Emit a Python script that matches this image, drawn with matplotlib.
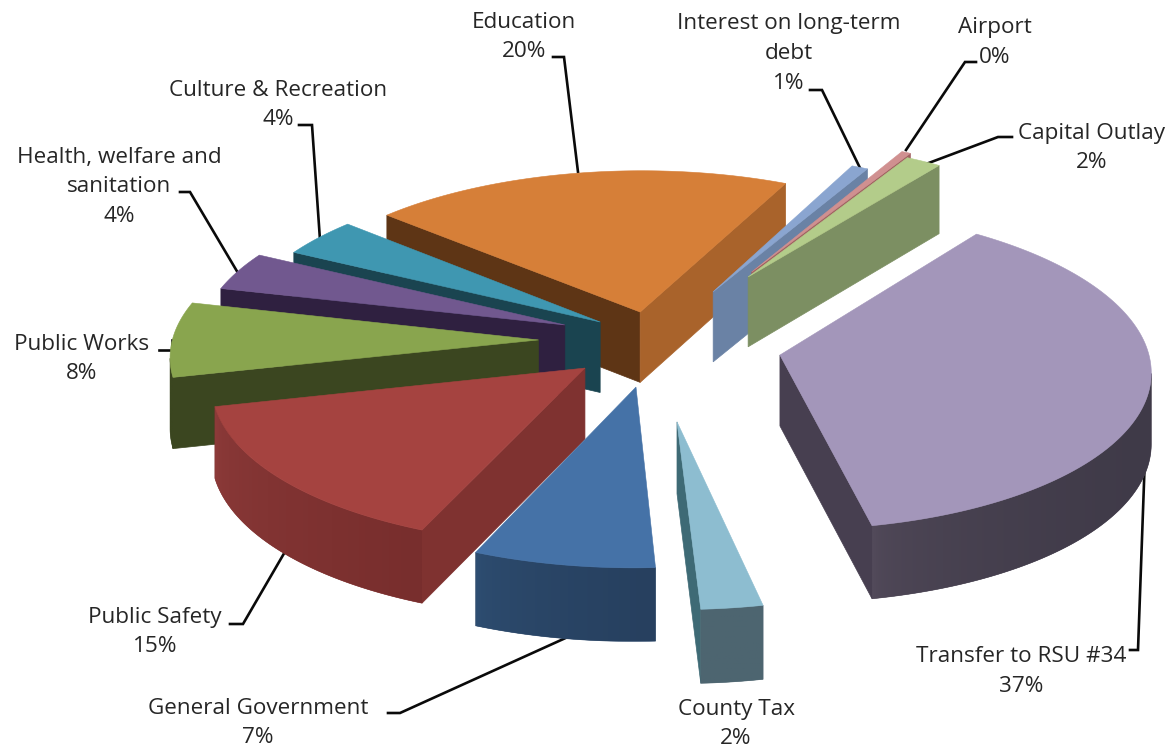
import numpy as np
import matplotlib
matplotlib.use("Agg")
import matplotlib.pyplot as plt
from matplotlib.colors import to_rgb
from matplotlib.patches import Polygon

# Spending shares, listed clockwise from the Transfer slice
categories = ["Transfer to RSU #34", "County Tax", "General Government", "Public Safety",
              "Public Works", "Health, welfare and\nsanitation", "Culture & Recreation",
              "Education", "Interest on long-term\ndebt", "Airport", "Capital Outlay"]
shares = [36.7, 2.4, 7.2, 14.9, 7.6, 3.9, 3.9, 20.4, 0.8, 0.45, 1.75]

# Slice colours: top face, wall facing left, wall facing right, rim at its left and right ends
top_colors = ["#a396ba", "#8dbdd0", "#4572a7", "#a54340", "#89a54e", "#71588f",
              "#3f97b1", "#d67f38", "#8aa5d0", "#d09090", "#b3cc8a"]
dark_walls = ["#473f50", "#3e6a75", "#2e4e72", "#7f3230", "#3b4620", "#2f2040",
              "#1a4450", "#5e3515", "#6a82a5", "#a06060", "#7c8f62"]
lit_walls = ["#6a6078", "#4d6570", "#27405f", "#7f3230", "#3b4620", "#2f2040",
             "#1a4450", "#a9632b", "#6a82a5", "#a06060", "#7c8f62"]
rim_left = ["#524a5a", "#4d6570", "#2e4e72", "#8c3a39", "#3b4620", "#2f2040",
            "#1a4450", "#5e3515", "#6a82a5", "#a06060", "#7c8f62"]
rim_right = ["#3f3a48", "#4d6570", "#27405f", "#782e2d", "#3b4620", "#2f2040",
             "#1a4450", "#a9632b", "#6a82a5", "#a06060", "#7c8f62"]

# How far each slice is pulled out, in pie radii (to the right, towards the viewer)
explode_right = [0.325, 0.0445, -0.064, -0.202, -0.332, -0.262, -0.165, -0.055, 0.149, 0.26, 0.249]
explode_forward = [-0.031, 0.373, 0.166, 0.05, -0.126, -0.222, -0.241, -0.306, -0.44, -0.574, -0.54]

# Slices painted from the back of the scene to the front
paint_order = [7, 8, 9, 10, 6, 5, 4, 0, 3, 2, 1]

FIRST_ANGLE = 36.2   # degrees clockwise from the far side of the pie
CX, CY = 660.0, 360.0
RX, RY = 370.0, 160.8
PERSPECTIVE = 0.084
WALL = 71.0

# Leader lines as (x, y) runs from the label to its slice
leaders = [
    [(553, 57), (564, 57), (578, 172)],
    [(810, 90), (822, 90), (860, 168)],
    [(976, 62), (965, 62), (906, 150)],
    [(1012, 137), (998, 137), (926, 164)],
    [(299, 125), (312, 125), (320, 240)],
    [(180, 192), (190, 192), (238, 273)],
    [(159, 350), (172, 350), (172, 340)],
    [(230, 624), (243, 624), (286, 550)],
    [(388, 713), (400, 713), (570, 636)],
    [(1130, 650), (1138, 650), (1145, 455)],
]

# Centre of the label block: x, and y of the first line
label_anchor = {
    "Transfer to RSU #34": (1021, 657), "County Tax": (736, 709),
    "General Government": (258, 708), "Public Safety": (155, 617),
    "Public Works": (82, 344), "Health, welfare and\nsanitation": (119, 157),
    "Culture & Recreation": (278, 90), "Education": (524, 22),
    "Interest on long-term\ndebt": (789, 24), "Airport": (995, 28),
    "Capital Outlay": (1092, 133),
}


def project(u, v):
    """Map pie-plane coordinates to the tilted view."""
    w = 1.0 - PERSPECTIVE * v
    return CX + RX * u / w, CY + RY * v / w


def wall_drop(v):
    return WALL / (1.0 - 0.03 * v)


fig = plt.figure(figsize=(11.73, 7.49), dpi=100, facecolor="white")
ax = fig.add_axes([0, 0, 1, 1])

total = sum(shares)
spans = [s / total * 360.0 for s in shares]
starts = FIRST_ANGLE + np.concatenate(([0.0], np.cumsum(spans)[:-1]))

# Leaders sit behind the pie so they end cleanly at the slice edges
for run in leaders:
    xs, ys = zip(*run)
    ax.plot(xs, ys, color="#0a0a0a", lw=1.9, solid_joinstyle="miter", zorder=1)

z = 2
for i in paint_order:
    th = np.radians(np.linspace(starts[i], starts[i] + spans[i], max(6, int(spans[i] * 1.5))))
    du, dv = explode_right[i], explode_forward[i]
    # Outline: apex, arc clockwise, back to the apex
    u = np.concatenate(([du], du + np.sin(th), [du]))
    v = np.concatenate(([dv], dv - np.cos(th), [dv]))
    x, y = project(u, v)
    drop = wall_drop(v)
    last = len(x) - 2

    # Flat radial walls, only where they face the viewer
    for k in (0, last):
        dx = x[k + 1] - x[k]
        if dx >= 0:
            continue
        normal_x = (y[k + 1] - y[k]) / np.hypot(dx, y[k + 1] - y[k])
        col = lit_walls[i] if normal_x > 0.3 else dark_walls[i]
        quad = [(x[k], y[k]), (x[k + 1], y[k + 1]),
                (x[k + 1], y[k + 1] + drop[k + 1]), (x[k], y[k] + drop[k])]
        ax.add_patch(Polygon(quad, closed=True, facecolor=col, edgecolor=col, lw=0.5, zorder=z))
    z += 1

    # Curved rim: a left-to-right shade clipped to the visible part of the arc
    idx = np.arange(1, last + 1)
    visible = np.concatenate(([False], np.diff(x[idx]) < 0))
    visible[:-1] |= np.diff(x[idx]) < 0
    idx = idx[visible]
    if len(idx) >= 2:
        rx, ry, rd = x[idx], y[idx], drop[idx]
        outline = np.concatenate((np.column_stack((rx, ry)),
                                  np.column_stack((rx, ry + rd))[::-1]))
        mean_col = tuple((np.array(to_rgb(rim_left[i])) + np.array(to_rgb(rim_right[i]))) / 2)
        base = Polygon(outline, closed=True, facecolor=mean_col, edgecolor=mean_col,
                       lw=0.4, zorder=z)
        ax.add_patch(base)
        # Most of the shade change happens close to the left end of the rim
        t = np.linspace(0, 1, 64)[:, np.newaxis] ** 0.5
        left, right = np.array(to_rgb(rim_left[i])), np.array(to_rgb(rim_right[i]))
        ramp = (left + (right - left) * t)[np.newaxis, :, :]
        img = ax.imshow(ramp, extent=(rx.min(), rx.max(), outline[:, 1].max(), outline[:, 1].min()),
                        aspect="auto", interpolation="bilinear", zorder=z + 0.5)
        img.set_clip_path(base)
    z += 1

    ax.add_patch(Polygon(np.column_stack((x[:-1], y[:-1])), closed=True,
                         facecolor=top_colors[i], edgecolor=top_colors[i], lw=0.4, zorder=z))
    z += 1

ax.set_xlim(0, 1173)
ax.set_ylim(749, 0)
ax.axis("off")

LINE = 29.7
for name, share in zip(categories, shares):
    ax_x, ax_y = label_anchor[name]
    lines = name.split("\n") + [f"{share / total * 100:.0f}%"]
    for n, line in enumerate(lines):
        ax.text(ax_x, ax_y + n * LINE, line, ha="center", va="center", color="#262626",
                fontsize=16.2, family="Open Sans", zorder=z + 1)

fig.savefig("out.png", dpi=100, facecolor="white")
